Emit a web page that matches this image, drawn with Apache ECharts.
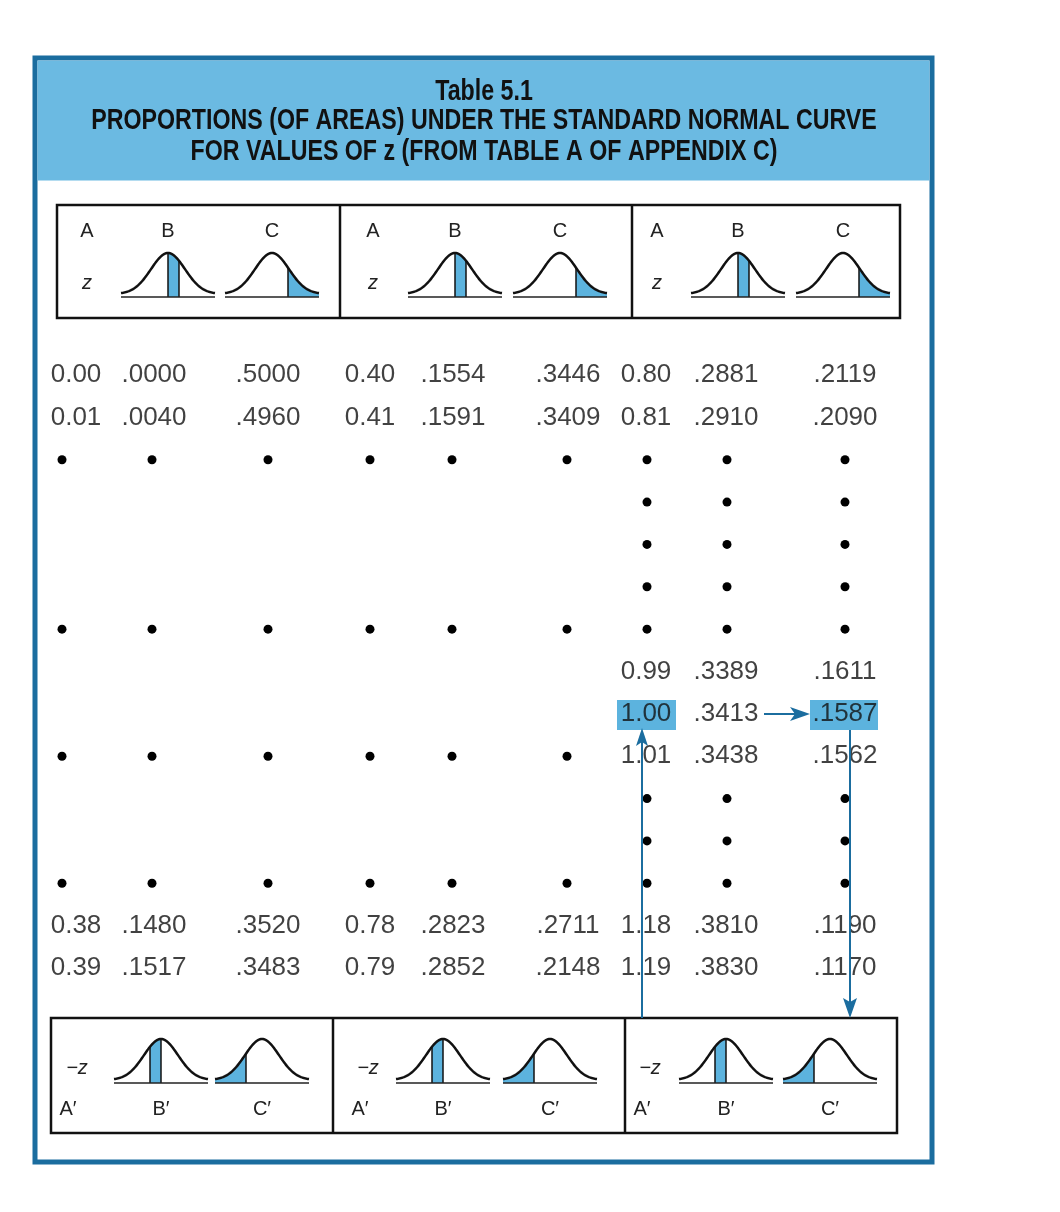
<!DOCTYPE html>
<html><head><meta charset="utf-8">
<script src="https://cdn.jsdelivr.net/npm/echarts@6/dist/echarts.min.js"></script>
<style>html,body{margin:0;padding:0;background:#fff}#c{width:1060px;height:1212px}</style>
</head><body><div id="c"></div>
<script>
// ---- data ----
const titleLines = ["Table 5.1", "PROPORTIONS (OF AREAS) UNDER THE STANDARD NORMAL CURVE", "FOR VALUES OF z (FROM TABLE A OF APPENDIX C)"];
const rowLabels = ["r0","r1","r2","r3","r4","r5","r6","r7","r8","r9","r10","r11","r12","r13","r14"];
const colA1 = ["0.00","0.01","0.38","0.39"];
const colB1 = [".0000",".0040",".1480",".1517"];
const colC1 = [".5000",".4960",".3520",".3483"];
const colA2 = ["0.40","0.41","0.78","0.79"];
const colB2 = [".1554",".1591",".2823",".2852"];
const colC2 = [".3446",".3409",".2711",".2148"];
const colA3 = ["0.80","0.81","0.99","1.00","1.01","1.18","1.19"];
const colB3 = [".2881",".2910",".3389",".3413",".3438",".3810",".3830"];
const colC3 = [".2119",".2090",".1611",".1587",".1562",".1190",".1170"];
const rowsG12 = [0,1,13,14];          // rows holding values, groups 1-2
const rowsG3 = [0,1,7,8,9,13,14];     // rows holding values, group 3
const dotRowsG12 = [2,6,9,12];
const dotRowsG3 = [2,3,4,5,6,10,11,12];

// ---- layout ----
const colX = [76,154,268,370,453,568,646,726,845];
const dotX = [62,152,268,370,452,567,647,727,845];
const BLUE = '#1b6d9f', FILL = '#6bbae2', SHADE = '#5cb3de';

const cols = [[colA1,colB1,colC1,rowsG12],[colA2,colB2,colC2,rowsG12],[colA3,colB3,colC3,rowsG3]];
const textData = [];
cols.forEach((g, gi) => {
  for (let k = 0; k < 3; k++) {
    g[k].forEach((v, i) => textData.push({value: [colX[gi*3+k], rowLabels[g[3][i]]], label: v}));
  }
});
const dotData = [];
for (let c = 0; c < 9; c++) {
  (c < 6 ? dotRowsG12 : dotRowsG3).forEach(r => dotData.push([dotX[c], rowLabels[r]]));
}

// ---- icons ----
const g = [];
function curve(cx, base, mode) {
  const hw = 47, h = 44, s = 17;
  const f = x => base - 3 - (h - 3) * Math.exp(-x*x/(2*s*s));
  const pts = [];
  for (let x = -hw; x <= hw; x += 1) pts.push([cx + x, f(x)]);
  let a, b;
  if (mode === 'B') { a = 0; b = 11; }
  if (mode === 'C') { a = 16; b = hw; }
  if (mode === 'Bp') { a = -11; b = 0; }
  if (mode === 'Cp') { a = -hw; b = -16; }
  const poly = [[cx + a, base]];
  for (let x = a; x <= b; x += 1) poly.push([cx + x, f(x)]);
  poly.push([cx + b, base]);
  g.push({type:'polygon', shape:{points:poly}, style:{fill:SHADE, stroke:null}});
  const edge = (mode === 'B' || mode === 'Bp') ? [a, b] : (mode === 'C' ? [a] : [b]);
  edge.forEach(e => g.push({type:'line', shape:{x1:cx+e, y1:base, x2:cx+e, y2:f(e)}, style:{stroke:'#111', lineWidth:1.5}}));
  g.push({type:'line', shape:{x1:cx-hw, y1:base, x2:cx+hw, y2:base}, style:{stroke:'#222', lineWidth:1.5}});
  g.push({type:'polyline', shape:{points:pts}, style:{stroke:'#111', lineWidth:2.5, fill:null}});
}
function txt(x, y, t, font) {
  g.push({type:'text', x, y, style:{text:t, fill:'#222', font:font || '20px "Liberation Sans", Arial', align:'center', verticalAlign:'middle'}});
}
// frame
g.push({type:'rect', shape:{x:35, y:58, width:897, height:1104}, style:{fill:'#fff', stroke:BLUE, lineWidth:5}});
g.push({type:'rect', shape:{x:37.5, y:60.5, width:892, height:120}, style:{fill:FILL}});
// title
const tf = 'bold 29px "Liberation Sans", Arial, sans-serif';
[[92,0.80],[121,0.80],[152,0.80]].forEach((p, i) => {
  const t = i === 2 ? [{text:'FOR VALUES OF '}, ] : null;
  g.push({type:'text', x:484, y:p[0], scaleX:p[1], originX:0,
    style:{text:titleLines[i], font:tf, fill:'#111', align:'center', verticalAlign:'middle'}});
});
// top box
g.push({type:'rect', shape:{x:57, y:205, width:843, height:113}, style:{fill:'#fff', stroke:'#111', lineWidth:2.5}});
[340, 632].forEach(x => g.push({type:'line', shape:{x1:x, y1:205, x2:x, y2:318}, style:{stroke:'#111', lineWidth:2.5}}));
[[87,168,272],[373,455,560],[657,738,843]].forEach(p => {
  txt(p[0], 231, 'A'); txt(p[0], 283, 'z', 'italic 20px "Liberation Sans", Arial');
  txt(p[1], 231, 'B'); txt(p[2], 231, 'C');
  curve(p[1], 297, 'B'); curve(p[2], 297, 'C');
});
// bottom box
g.push({type:'rect', shape:{x:51, y:1018, width:846, height:115}, style:{fill:'#fff', stroke:'#111', lineWidth:2.5}});
[333, 625].forEach(x => g.push({type:'line', shape:{x1:x, y1:1018, x2:x, y2:1133}, style:{stroke:'#111', lineWidth:2.5}}));
[[77,68,161,262,262],[368,360,443,550,550],[650,642,726,830,830]].forEach(p => {
  txt(p[0], 1068, '\u2212z', 'italic 20px "Liberation Sans", Arial'); txt(p[1], 1109, 'A\u2032');
  txt(p[2], 1109, 'B\u2032'); txt(p[4], 1109, 'C\u2032');
  curve(p[2], 1083, 'Bp'); curve(p[3], 1083, 'Cp');
});
// highlights
g.push({type:'rect', shape:{x:617, y:700, width:59, height:30}, style:{fill:SHADE}});
g.push({type:'rect', shape:{x:810, y:700, width:68, height:30}, style:{fill:SHADE}});
// arrows
const arrowZ = 10;
g.push({type:'line', z:arrowZ, shape:{x1:642, y1:1018, x2:642, y2:740}, style:{stroke:BLUE, lineWidth:2}});
g.push({type:'polygon', z:arrowZ, shape:{points:[[642,728],[636,746],[642,742],[648,746]]}, style:{fill:BLUE}});
g.push({type:'line', z:arrowZ, shape:{x1:764, y1:714, x2:798, y2:714}, style:{stroke:BLUE, lineWidth:2}});
g.push({type:'polygon', z:arrowZ, shape:{points:[[810,714],[790,707],[795,714],[790,721]]}, style:{fill:BLUE}});
g.push({type:'line', z:arrowZ, shape:{x1:850, y1:730, x2:850, y2:1004}, style:{stroke:BLUE, lineWidth:2}});
g.push({type:'polygon', z:arrowZ, shape:{points:[[850,1018],[843,998],[850,1002],[857,998]]}, style:{fill:BLUE}});

const chart = echarts.init(document.getElementById('c'));
chart.setOption({
  animation:false,
  graphic:{elements:g},
  grid:{left:0, right:0, top:353.8, bottom:222.8, z:5},
  xAxis:{type:'value', min:0, max:1060, show:false},
  yAxis:{type:'category', data:rowLabels, inverse:true, show:false},
  series:[
    {type:'scatter', z:6, symbolSize:0, data:textData.map(d => d.value), silent:true,
     label:{show:true, position:'inside', color:'#111', fontSize:26, fontFamily:'"Liberation Sans", Arial',
            formatter:p => textData[p.dataIndex].label}},
    {type:'scatter', z:6, symbol:'circle', symbolSize:9, itemStyle:{color:'#000', opacity:1}, data:dotData, silent:true}
  ]
});
</script></body></html>
